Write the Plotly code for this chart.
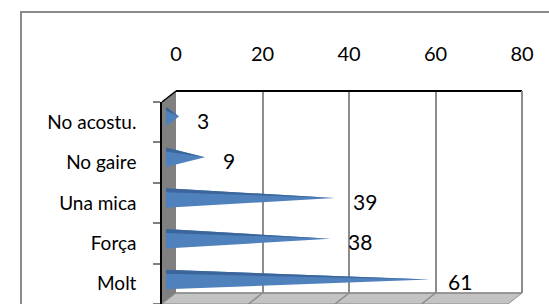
import plotly.graph_objects as go

W, H = 549, 304

categories = ["Molt", "Força", "Una mica", "No gaire", "No acostu."]
values = [61, 38, 39, 9, 3]
tick_vals = [0, 20, 40, 60, 80]
x_max = 80

FONT = "Lato, 'Open Sans', sans-serif"


def px(x):
    return x / W


def py(y):
    return (H - y) / H


BACK_L, BACK_R, BACK_T, BACK_B = 176, 522, 91, 293
FRONT_L, FRONT_T, FRONT_B = 162, 102, 304
BAR_L, BAR_R = 166, 512
BAR_TOP_C, BAR_BOT_C = 116.5, 279.5
band = (BAR_BOT_C - BAR_TOP_C) / (len(categories) - 1)

fig = go.Figure()

hw = 0.24
for i, v in enumerate(values):
    fig.add_trace(go.Scatter(
        x=[0, v, 0, 0], y=[i - hw, i, i + hw, i - hw],
        mode="lines", fill="toself", fillcolor="#4f81bd",
        line=dict(width=0, color="#4f81bd"),
        xaxis="x2", yaxis="y2", hoverinfo="skip", showlegend=False))
    fig.add_trace(go.Scatter(
        x=[0, v, 0, 0], y=[i + hw, i, i + hw - 0.1, i + hw],
        mode="lines", fill="toself", fillcolor="#3c659b",
        line=dict(width=0, color="#3c659b"),
        xaxis="x2", yaxis="y2", hoverinfo="skip", showlegend=False))

fig.add_trace(go.Scatter(
    x=[0.5] * len(categories), y=categories, mode="markers",
    marker=dict(opacity=0), xaxis="x3", yaxis="y3",
    hoverinfo="skip", showlegend=False))

annotations = []
for i, v in enumerate(values):
    annotations.append(dict(
        x=v, y=i, xref="x", yref="y", text=str(v), showarrow=False,
        xanchor="left", yanchor="middle", xshift=6, yshift=-9,
        font=dict(family=FONT, size=21, color="black")))

shapes = []
shapes.append(dict(type="rect", xref="paper", yref="paper",
                   x0=px(21), y0=py(12), x1=1.2, y1=-0.2,
                   line=dict(color="#8a8a8a", width=2), layer="below"))
shapes.append(dict(type="path", xref="paper", yref="paper",
                   path=f"M {px(FRONT_L)},{py(FRONT_T)} L {px(BACK_L)},{py(BACK_T)} "
                        f"L {px(BACK_L)},{py(BACK_B)} L {px(FRONT_L)},{py(FRONT_B)} Z",
                   fillcolor="#808080", line=dict(width=0), layer="below"))
dx = BACK_L - FRONT_L
shapes.append(dict(type="path", xref="paper", yref="paper",
                   path=f"M {px(BACK_L)},{py(BACK_B)} L {px(BACK_R)},{py(BACK_B)} "
                        f"L {px(BACK_R - dx)},{py(FRONT_B)} L {px(FRONT_L)},{py(FRONT_B)} Z",
                   fillcolor="#c3c3c3", line=dict(color="#8c8c8c", width=1), layer="below"))
for t in tick_vals[1:-1]:
    xg = BACK_L + t / x_max * (BACK_R - BACK_L)
    shapes.append(dict(type="line", xref="paper", yref="paper",
                       x0=px(xg), y0=py(BACK_B), x1=px(xg - dx), y1=py(FRONT_B),
                       line=dict(color="#8c8c8c", width=1.5)))
shapes.append(dict(type="line", xref="paper", yref="paper",
                   x0=px(FRONT_L), y0=py(FRONT_T), x1=px(BACK_L), y1=py(BACK_T),
                   line=dict(color="black", width=1.5)))
shapes.append(dict(type="line", xref="paper", yref="paper",
                   x0=px(BACK_L), y0=py(BACK_T), x1=px(BACK_R), y1=py(BACK_T),
                   line=dict(color="black", width=2)))
shapes.append(dict(type="line", xref="paper", yref="paper",
                   x0=px(BACK_R), y0=py(BACK_T), x1=px(BACK_R), y1=py(BACK_B),
                   line=dict(color="#8c8c8c", width=2)))
shapes.append(dict(type="line", xref="paper", yref="paper",
                   x0=px(BACK_L), y0=py(BACK_B), x1=px(BACK_R), y1=py(BACK_B),
                   line=dict(color="#8c8c8c", width=1.5)))

fig.update_layout(
    width=W, height=H,
    margin=dict(l=0, r=0, t=0, b=0, autoexpand=False),
    paper_bgcolor="white", plot_bgcolor="rgba(0,0,0,0)",
    showlegend=False,
    shapes=shapes, annotations=annotations,
    xaxis=dict(domain=[px(BACK_L), px(BACK_R)], range=[0, x_max], side="top",
               tickvals=tick_vals, ticktext=[str(t) for t in tick_vals],
               showgrid=True, gridcolor="#8c8c8c", gridwidth=1.5,
               zeroline=False, showline=False, ticks="", automargin=False,
               ticklabelstandoff=25,
               tickfont=dict(family=FONT, size=20, color="black"),
               anchor="y", fixedrange=True),
    yaxis=dict(domain=[py(BACK_B), py(BACK_T)], range=[-0.5, 4.5],
               visible=False, anchor="x", fixedrange=True, automargin=False),
    xaxis2=dict(domain=[px(BAR_L), px(BAR_R)], range=[0, x_max],
                visible=False, anchor="y2", fixedrange=True, automargin=False),
    yaxis2=dict(domain=[py(BAR_BOT_C + band / 2), py(BAR_TOP_C - band / 2)],
                range=[-0.5, 4.5], visible=False, anchor="x2", fixedrange=True,
                automargin=False),
    xaxis3=dict(domain=[px(FRONT_L), px(BACK_L)], range=[0, 1],
                visible=False, anchor="y3", fixedrange=True, automargin=False),
    yaxis3=dict(domain=[py(FRONT_B), py(FRONT_T)], type="category",
                categoryorder="array", categoryarray=categories,
                range=[-0.5, 4.5], anchor="x3", side="left",
                showline=True, linecolor="black", linewidth=1.5,
                ticks="outside", ticklen=7, tickcolor="#7f7f7f", tickwidth=1.5,
                tickson="boundaries", showgrid=False, zeroline=False,
                ticklabelstandoff=20, automargin=False,
                tickfont=dict(family=FONT, size=19, color="black"),
                fixedrange=True),
)

fig.write_html("out.html", config={"displayModeBar": False},
               post_script="document.body.style.margin='0';document.body.style.overflow='hidden';")
